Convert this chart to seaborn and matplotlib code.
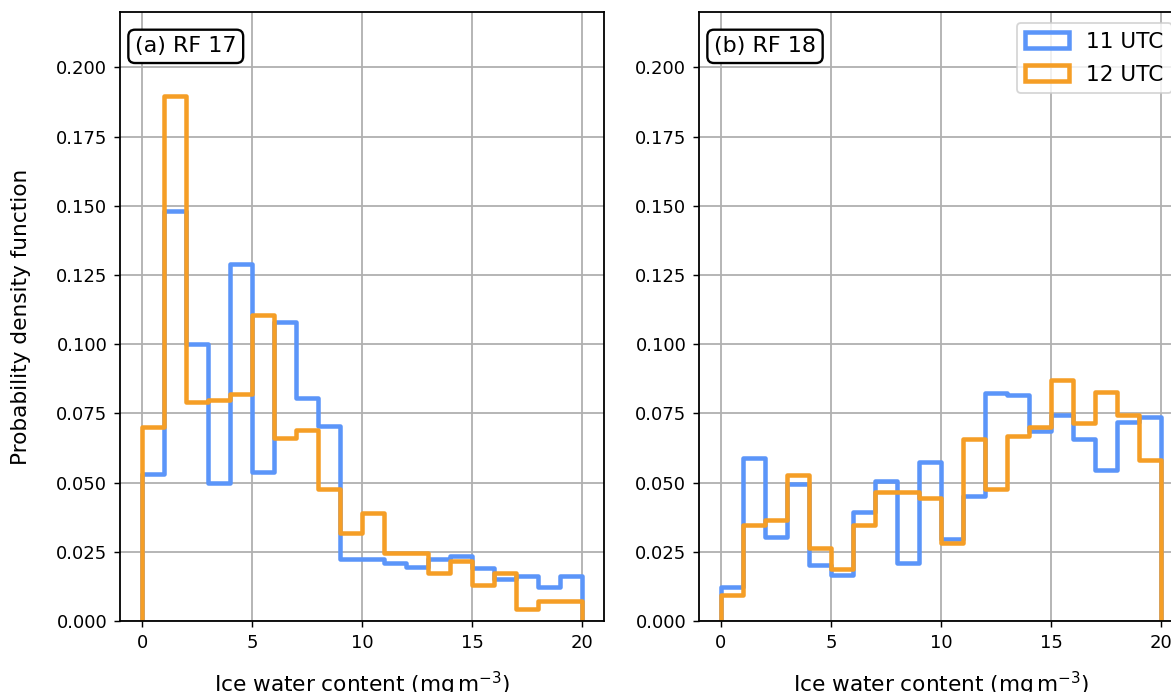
import numpy as np
import pandas as pd
import seaborn as sns
import matplotlib.pyplot as plt
from matplotlib.patches import Patch

# bins of ice water content (mg m-3), width 1
bin_edges = list(range(0, 21))

# probability density per bin
rf17_11utc = [0.053, 0.148, 0.100, 0.050, 0.129, 0.054, 0.108, 0.0805, 0.0705, 0.0223,
              0.0223, 0.0209, 0.0194, 0.0223, 0.0235, 0.0193, 0.0151, 0.0163, 0.0122, 0.0163]
rf17_12utc = [0.070, 0.1896, 0.079, 0.080, 0.082, 0.1107, 0.066, 0.0691, 0.0476, 0.0319,
              0.0389, 0.0245, 0.0245, 0.0175, 0.0218, 0.0130, 0.0172, 0.0042, 0.0072, 0.0072]
rf18_11utc = [0.0124, 0.0588, 0.0305, 0.0494, 0.0203, 0.0166, 0.0395, 0.0507, 0.0209, 0.0573,
              0.0297, 0.0452, 0.0825, 0.0815, 0.0685, 0.0745, 0.0657, 0.0546, 0.0720, 0.0737]
rf18_12utc = [0.0094, 0.0345, 0.0365, 0.0528, 0.0265, 0.0187, 0.0345, 0.0465, 0.0465, 0.0446,
              0.0283, 0.0659, 0.0476, 0.0667, 0.0700, 0.0872, 0.0717, 0.0829, 0.0745, 0.0582]

panel_labels = ["(a) RF 17", "(b) RF 18"]
series_labels = ["11 UTC", "12 UTC"]
colors = ["#5b95f9", "#f59e26"]

sns.set_style("ticks")
plt.rcParams.update({
    "font.family": ["DejaVu Sans"],
    "text.color": "black",
    "axes.labelcolor": "black",
    "xtick.color": "black",
    "ytick.color": "black",
    "axes.edgecolor": "black",
    "font.size": 10,
    "axes.labelsize": 12,
    "legend.fontsize": 12,
})

DPI = 130
fig = plt.figure(figsize=(1171 / DPI, 692 / DPI), dpi=DPI)
ax1 = fig.add_axes([120 / 1171, 71 / 692, 484 / 1171, 609 / 692])
ax2 = fig.add_axes([699 / 1171, 71 / 692, 484 / 1171, 609 / 692])

centers = np.array(bin_edges[:-1]) + 0.5
# zero-width outer bins so the step outline drops to the baseline at both ends
edges = [bin_edges[0]] + bin_edges + [bin_edges[-1]]

panels = [(ax1, [rf17_11utc, rf17_12utc]), (ax2, [rf18_11utc, rf18_12utc])]
for i, (ax, series) in enumerate(panels):
    for vals, c in zip(series, colors):
        df = pd.DataFrame({"iwc": centers, "pdf": vals})
        sns.histplot(data=df, x="iwc", weights="pdf", bins=edges, element="step",
                     fill=False, stat="count", color=c, lw=2.5, ax=ax)
    ax.set_xlim(-1, 21)
    ax.set_ylim(0, 0.22)
    ax.set_xticks([0, 5, 10, 15, 20])
    ax.set_yticks(np.arange(0, 0.201, 0.025))
    ax.grid(True, color="#b0b0b0", lw=1.0)
    ax.set_axisbelow(True)
    for s in ax.spines.values():
        s.set_visible(True)
        s.set_linewidth(1.0)
    ax.set_xlabel(r"Ice water content (mg$\,$m$^{-3}$)", labelpad=10)
    ax.set_ylabel("Probability density function" if i == 0 else "", labelpad=14)
    ax.text(0.031, 0.96, panel_labels[i], transform=ax.transAxes, ha="left", va="top",
            fontsize=12.3,
            bbox=dict(boxstyle="round,pad=0.3", fc="white", ec="black", lw=1.3))

handles = [Patch(facecolor="none", edgecolor=c, lw=2.5, label=l)
           for c, l in zip(colors, series_labels)]
ax2.legend(handles=handles, loc="upper right", labelspacing=0.6)

fig.savefig("out.png", dpi=DPI)
